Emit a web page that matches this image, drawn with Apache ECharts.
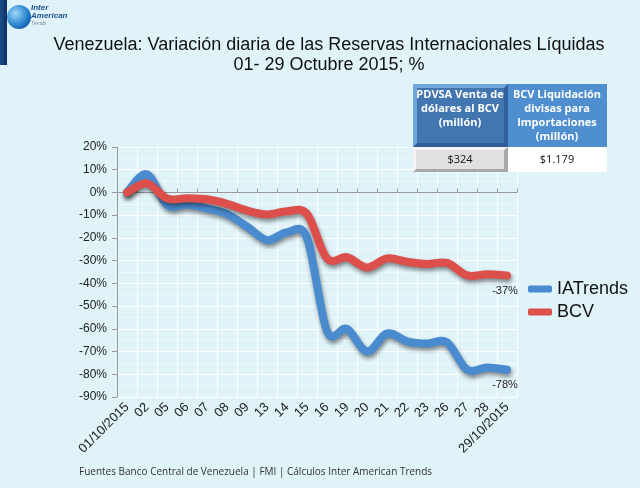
<!DOCTYPE html>
<html><head><meta charset="utf-8">
<script src="https://cdn.jsdelivr.net/npm/echarts@6/dist/echarts.min.js"></script>
<style>html,body{margin:0;padding:0;background:#dff3f9}#c{width:640px;height:488px}</style>
</head><body><div id="c"></div>
<script>
const categories = ['01/10/2015','02','05','06','07','08','09','13','14','15','16','19','20','21','22','23','26','27','28','29/10/2015'];
const iatrends = [0, 8, -5.5, -5.3, -7, -9.5, -15, -21, -17.5, -20, -61, -60, -70, -62, -65.5, -66.5, -66, -78, -77, -78];
const bcv = [0, 4, -2.7, -2.5, -3, -5, -8, -9.7, -8.3, -9.5, -29, -28.5, -33, -29, -30.5, -31.5, -31, -36.5, -36, -36.5];
const yTicks = {min: -90, max: 20, interval: 10};
const tableHeaders = ['PDVSA Venta de\ndólares al BCV\n(millón)', 'BCV Liquidación\ndivisas para\nImportaciones\n(millón)'];
const tableValues = ['$324', '$1.179'];
const endLabels = ['-78%', '-37%'];

const chart = echarts.init(document.getElementById('c'));
const font = '"Liberation Sans", Arial, sans-serif';
const cal = '"Open Sans", "Liberation Sans", sans-serif';

// Smooth curve (Catmull-Rom style, like spreadsheet smoothed lines) through points given by the axis scales
function makeRender(values, color, endLabel) {
  return function (params, api) {
    if (params.dataIndex !== values.length - 1) return null;
    const pts = values.map((v, i) => api.coord([i, v]));
    const n = pts.length;
    const P = i => pts[Math.max(0, Math.min(n - 1, i))];
    let d = 'M' + pts[0][0] + ' ' + pts[0][1];
    for (let i = 0; i < n - 1; i++) {
      const p0 = P(i - 1), p1 = P(i), p2 = P(i + 1), p3 = P(i + 2);
      const c1x = p1[0] + (p2[0] - p0[0]) / 6, c1y = p1[1] + (p2[1] - p0[1]) / 6;
      const c2x = p2[0] - (p3[0] - p1[0]) / 6, c2y = p2[1] - (p3[1] - p1[1]) / 6;
      d += ' C' + c1x + ' ' + c1y + ' ' + c2x + ' ' + c2y + ' ' + p2[0] + ' ' + p2[1];
    }
    const last = pts[n - 1];
    return {
      type: 'group',
      children: [{
        type: 'path',
        shape: {pathData: d},
        style: {fill: 'none', stroke: color, lineWidth: 8, lineCap: 'round', lineJoin: 'round',
          shadowColor: 'rgba(0,0,0,0.45)', shadowBlur: 4, shadowOffsetX: 1, shadowOffsetY: 3}
      }, {
        type: 'text',
        x: last[0] - 2, y: last[1] + 10,
        style: {text: endLabel, fill: '#222', font: '11px ' + font, align: 'center', verticalAlign: 'top'}
      }]
    };
  };
}

function customSeries(name, values, color, endLabel) {
  return {
    name: name, type: 'custom', xAxisIndex: 0, yAxisIndex: 0,
    data: values.map((v, i) => [i, v]),
    encode: {x: 0, y: 1},
    itemStyle: {color: color},
    clip: false,
    renderItem: makeRender(values, color, endLabel)
  };
}

const Z = 100;
chart.setOption({
  backgroundColor: '#dff3f9',
  animation: false,
  title: {
    text: 'Venezuela: Variación diaria de las Reservas Internacionales Líquidas\n01- 29 Octubre 2015; %',
    left: 324, top: 30, textAlign: 'center',
    textStyle: {fontFamily: font, fontSize: 18, fontWeight: 'normal', color: '#111', lineHeight: 20}
  },
  legend: {
    orient: 'vertical', left: 523, top: 275, itemGap: 5,
    itemWidth: 24, itemHeight: 7,
    data: [
      {name: 'IATrends', icon: 'roundRect'},
      {name: 'BCV', icon: 'roundRect'}
    ],
    textStyle: {fontFamily: font, fontSize: 18, color: '#111'}
  },
  grid: {left: 117, right: 123, top: 147, bottom: 91},
  xAxis: [{
    type: 'category', data: categories, boundaryGap: true,
    axisLine: {show: false, onZero: false}, axisTick: {show: false},
    axisLabel: {rotate: 45, interval: 0, fontFamily: font, fontSize: 13, color: '#222', margin: 8},
    splitLine: {show: true, interval: 0, lineStyle: {color: 'rgba(255,255,255,0.9)', width: 1}}
  }, {
    type: 'category', data: categories, boundaryGap: true, position: 'bottom',
    axisLine: {show: true, onZero: true, lineStyle: {color: '#999', width: 1}},
    axisTick: {show: true, interval: 0, inside: true, length: 4, lineStyle: {color: '#999'}},
    axisLabel: {show: false}, splitLine: {show: false}
  }],
  yAxis: {
    type: 'value', min: yTicks.min, max: yTicks.max, interval: yTicks.interval,
    axisLine: {show: true, lineStyle: {color: '#999'}},
    axisTick: {show: true, length: 5, lineStyle: {color: '#999'}},
    axisLabel: {formatter: v => v + '%', fontFamily: font, fontSize: 12, color: '#222', margin: 10},
    splitLine: {show: true, lineStyle: {color: 'rgba(255,255,255,0.9)', width: 1}},
    minorTick: {show: false, splitNumber: 2},
    minorSplitLine: {show: true, lineStyle: {color: 'rgba(255,255,255,0.5)', width: 1}}
  },
  series: [
    customSeries('IATrends', iatrends, '#4a8bd0', endLabels[0]),
    customSeries('BCV', bcv, '#dc4f4b', endLabels[1])
  ],
  graphic: [
    {type: 'rect', z: Z, shape: {x: 0, y: 0, width: 7, height: 65},
      style: {fill: {type: 'linear', x: 0, y: 0, x2: 1, y2: 0, colorStops: [{offset: 0, color: '#1d4f8c'}, {offset: 1, color: '#0e2f5e'}]}}},
    {type: 'circle', z: Z, shape: {cx: 19, cy: 17, r: 12},
      style: {fill: {type: 'radial', x: 0.35, y: 0.35, r: 0.8, colorStops: [{offset: 0, color: '#9fd8f7'}, {offset: 0.6, color: '#2a86cf'}, {offset: 1, color: '#0d4c95'}]}}},
    {type: 'text', z: Z, left: 31, top: 4, style: {text: 'Inter\nAmerican', fill: '#1a4f8f', font: 'italic bold 8px ' + font, lineHeight: 8}},
    {type: 'text', z: Z, left: 31, top: 21, style: {text: 'Trends', fill: '#7a8a99', font: 'italic 5px ' + font}},
    // table header cells
    {type: 'rect', z: Z, shape: {x: 413, y: 84, width: 95, height: 63}, style: {fill: '#2f5f96'}},
    {type: 'polygon', z: Z, shape: {points: [[413, 84], [508, 84], [504, 88], [417, 88], [417, 143], [413, 147]]}, style: {fill: '#6fa6dc'}},
    {type: 'rect', z: Z, shape: {x: 417, y: 88, width: 87, height: 55}, style: {fill: '#4276b0'}},
    {type: 'rect', z: Z, shape: {x: 508, y: 84, width: 99, height: 63}, style: {fill: '#4f8fd0'}},
    {type: 'text', z: Z + 1, x: 460, y: 88, style: {text: tableHeaders[0], fill: '#fff', font: 'bold 11px ' + cal, align: 'center', verticalAlign: 'top', lineHeight: 14}},
    {type: 'text', z: Z + 1, x: 557, y: 88, style: {text: tableHeaders[1], fill: '#fff', font: 'bold 11px ' + cal, align: 'center', verticalAlign: 'top', lineHeight: 14}},
    // value row
    {type: 'rect', z: Z, shape: {x: 413, y: 147, width: 95, height: 25}, style: {fill: '#a9a9a9'}},
    {type: 'polygon', z: Z, shape: {points: [[413, 147], [508, 147], [504, 150], [416, 150], [416, 169], [413, 172]]}, style: {fill: '#f4f4f4'}},
    {type: 'rect', z: Z, shape: {x: 416, y: 150, width: 88, height: 19}, style: {fill: '#e0e0e0'}},
    {type: 'rect', z: Z, shape: {x: 508, y: 147, width: 99, height: 25}, style: {fill: '#ffffff'}},
    {type: 'text', z: Z + 1, x: 460, y: 160, style: {text: tableValues[0], fill: '#111', font: '11px ' + cal, align: 'center', verticalAlign: 'middle'}},
    {type: 'text', z: Z + 1, x: 557, y: 160, style: {text: tableValues[1], fill: '#111', font: '11px ' + cal, align: 'center', verticalAlign: 'middle'}},
    // footer
    {type: 'text', z: Z, left: 79, top: 467, style: {text: 'Fuentes Banco Central de Venezuela | FMI | Cálculos Inter American Trends', fill: '#333', font: '10px ' + cal}}
  ]
});
</script>
</body></html>
